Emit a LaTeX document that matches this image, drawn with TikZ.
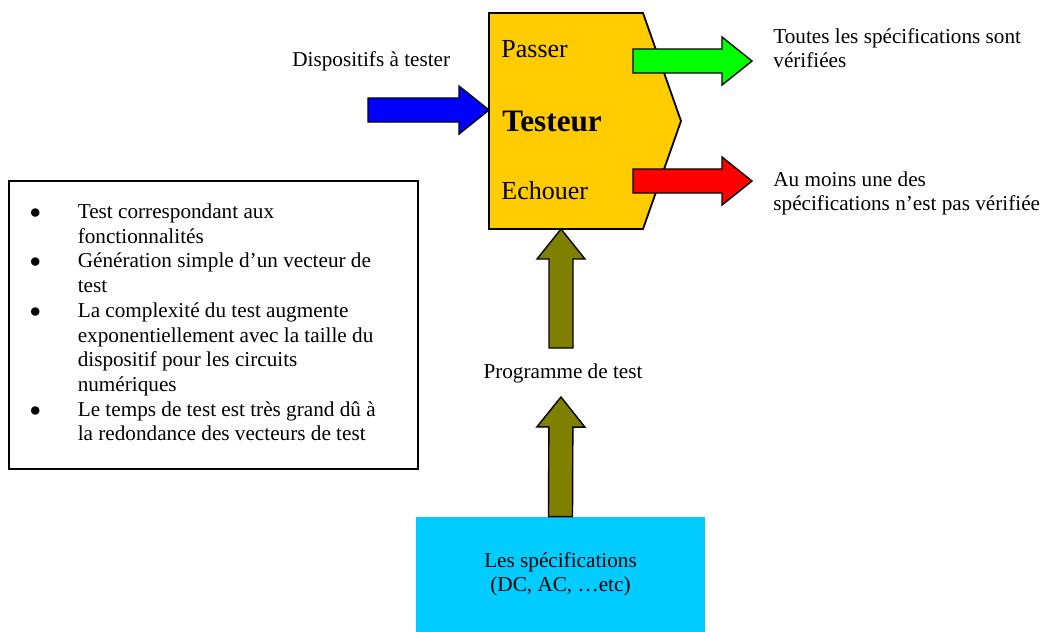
\documentclass[tikz,border=0pt]{standalone}
\usepackage{fontspec}
\setmainfont{Liberation Serif}
\usepackage{tikz}
\usetikzlibrary{calc,positioning}
\definecolor{orangetesteur}{RGB}{255,204,0}
\definecolor{vertok}{RGB}{0,255,0}
\definecolor{rougeko}{RGB}{255,0,0}
\definecolor{bleuentree}{RGB}{0,0,255}
\definecolor{olivefleche}{RGB}{128,128,0}
\definecolor{cyanspec}{RGB}{0,204,255}
\tikzset{
  base/.style={font=\fontsize{10.6}{12}\selectfont, inner sep=0pt, text=black},
  etiq/.style={base, anchor=base west, align=left},
  sortie/.style={base, anchor=base west, font=\fontsize{13}{15}\selectfont},
  titre/.style={base, anchor=base west, font=\fontsize{15.6}{18}\selectfont\bfseries},
  fleche/.style={draw=black, line width=0.7pt, line join=miter},
  testeurforme/.style={draw=black, fill=orangetesteur, line width=0.9pt, line join=miter},
  specbox/.style={base, rectangle, fill=cyanspec, minimum width=144.5pt, minimum height=57.5pt, align=center},
  listebox/.style={base, rectangle, draw=black, line width=0.8pt, minimum width=204.5pt, minimum height=144pt, font=\fontsize{10.6}{12.35}\selectfont},
}
% fleche pleine : couleur, depart, pointe
\newcommand{\flechebloc}[3]{%
  \path ($(#3)!15pt!(#2)$) coordinate (fb);
  \draw[fleche,fill=#1] ($(#2)!6pt!90:(#3)$) -- ($(fb)!6pt!90:(#3)$) -- ($(fb)!12pt!90:(#3)$) -- (#3)
    -- ($(fb)!12pt!-90:(#3)$) -- ($(fb)!6pt!-90:(#3)$) -- ($(#2)!6pt!-90:(#3)$) -- cycle;}
\begin{document}
\begin{tikzpicture}[x=0.5pt,y=-0.5pt]
  \useasboundingbox (0,0) rectangle (1046,632);
  % le testeur
  \draw[testeurforme] (489,13) -- (643,13) -- (681,121) -- (643,229) -- (489,229) -- cycle;
  \node[sortie] (passer) at (501,57) {Passer};
  \node[titre] (testeur) at (502,131) {Testeur};
  \node[sortie] (echouer) at (501,199) {Echouer};
  \coordinate (tO) at (489,110);
  \coordinate (tS) at (561,229);
  % entrees et sorties
  \node[etiq] (dispo) at (292,66) {Dispositifs à tester};
  \node[etiq] (toutes) at (773,67) {Toutes les spécifications sont\\vérifiées};
  \node[etiq] (aumoins) at (773,210) {Au moins une des\\spécifications n’est pas vérifiée};
  \coordinate (entree) at (368,110);
  \coordinate (okA) at (633,61);  \coordinate (okB) at (752,61);
  \coordinate (koA) at (633,181); \coordinate (koB) at (752,181);
  % programme et specifications
  \node[base, anchor=base] (prog) at (563,378) {Programme de test};
  \coordinate (progH) at (561,348);
  \coordinate (progB) at (561,397);
  \node[specbox] (specs) at (560.5,574.5) {Les spécifications\\(DC, AC, …etc)};
  % liste des caracteristiques
  \node[listebox, anchor=north west] (avantages) at (8,180) {\begin{tabular}{@{\hspace{10.5pt}}p{24pt}@{}p{170pt}@{}}
    $\bullet$ & Test correspondant aux\\
     & fonctionnalités\\
    $\bullet$ & Génération simple d’un vecteur de\\
     & test\\
    $\bullet$ & La complexité du test augmente\\
     & exponentiellement avec la taille du\\
     & dispositif pour les circuits\\
     & numériques\\
    $\bullet$ & Le temps de test est très grand dû à\\
     & la redondance des vecteurs de test
  \end{tabular}};
  % fleches
  \flechebloc{bleuentree}{entree}{tO}
  \flechebloc{vertok}{okA}{okB}
  \flechebloc{rougeko}{koA}{koB}
  \flechebloc{olivefleche}{progH}{tS}
  \flechebloc{olivefleche}{specs.north}{progB}
\end{tikzpicture}
\end{document}
